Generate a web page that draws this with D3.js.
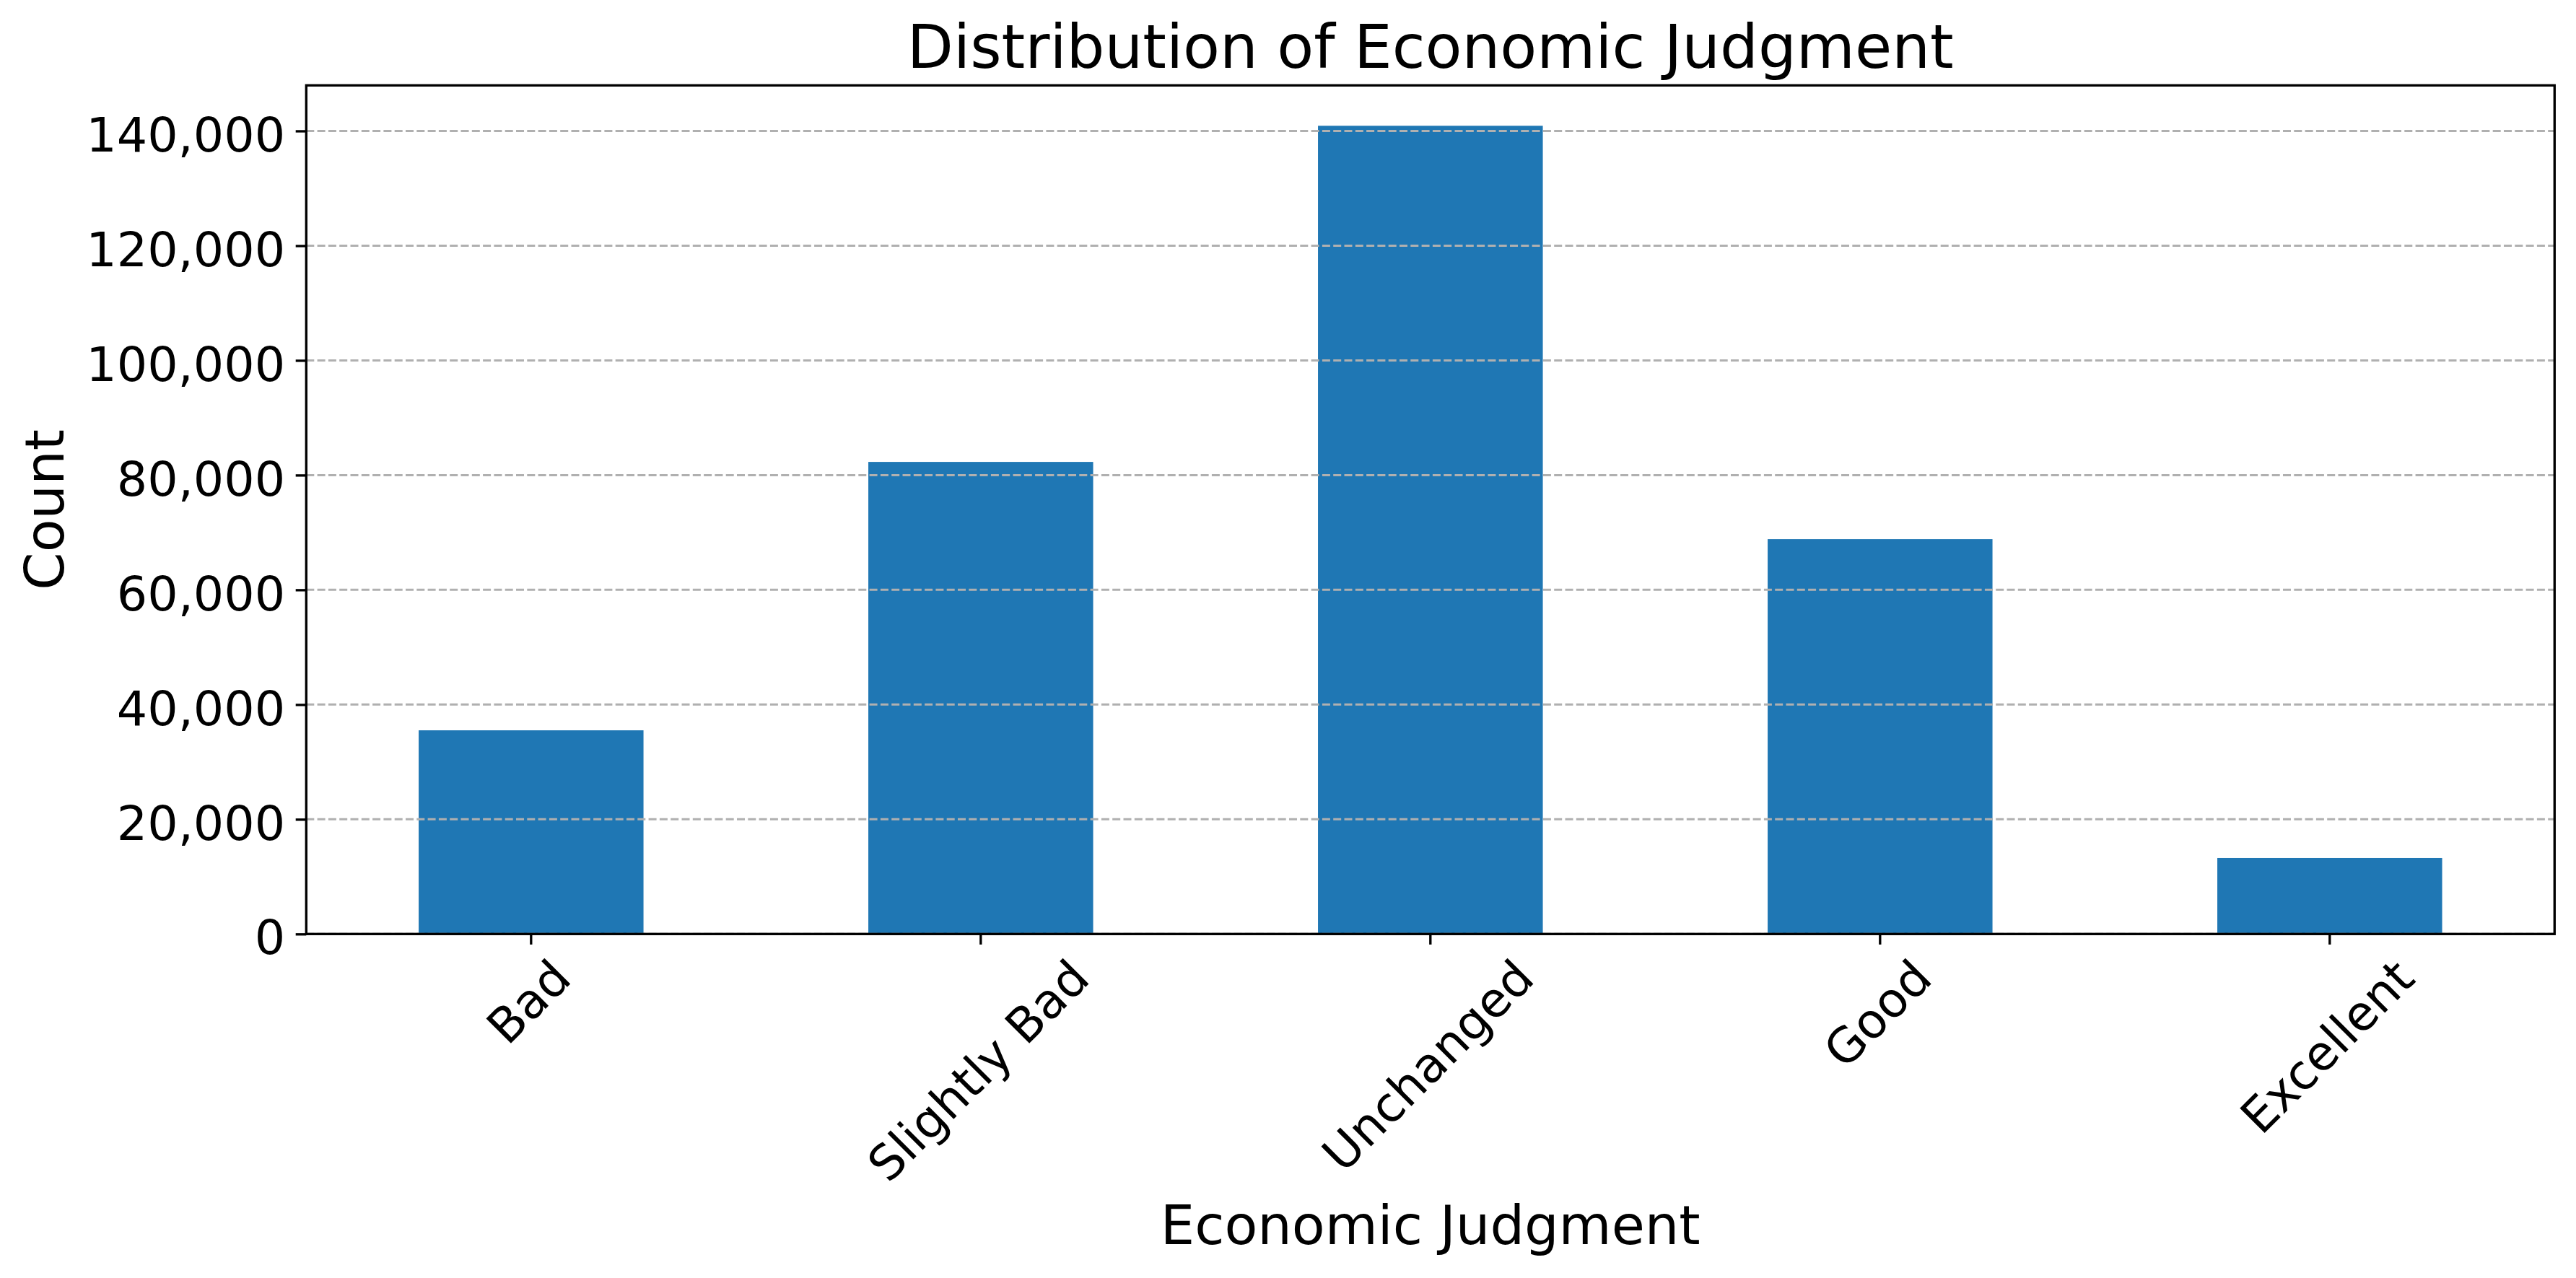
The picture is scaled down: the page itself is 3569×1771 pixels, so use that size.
<!DOCTYPE html>
<html>
<head>
<meta charset="utf-8">
<script src="https://cdn.jsdelivr.net/npm/d3@7"></script>
<style>
  html, body { margin: 0; padding: 0; background: #ffffff; }
  svg { display: block; }
  text { font-family: "DejaVu Sans", sans-serif; fill: #000; }
</style>
</head>
<body>
<svg id="chart" width="3569" height="1771"></svg>
<script>
// ---- data ----
const categories = ["Bad", "Slightly Bad", "Unchanged", "Good", "Excellent"];
const counts = [35510, 82300, 140900, 68840, 13250];
const yTickValues = [0, 20000, 40000, 60000, 80000, 100000, 120000, 140000];
const titleText = "Distribution of Economic Judgment";
const xLabelText = "Economic Judgment";
const yLabelText = "Count";

// ---- layout ----
const W = 3569, H = 1771;
const plot = { left: 424.3, right: 3539.3, top: 118.3, bottom: 1294.3 };
const tickLen = 14.6, tickPad = 14.6, lw = 3.33;
const tickFont = 66.7, labelFont = 75, titleFont = 83.3;

const svg = d3.select("#chart");
svg.append("rect").attr("width", W).attr("height", H).attr("fill", "#fff");

const x = d3.scaleBand()
  .domain(categories)
  .range([plot.left, plot.right])
  .paddingInner(0.5)
  .paddingOuter(0.25);

const y = d3.scaleLinear()
  .domain([0, d3.max(counts) * 1.05])
  .range([plot.bottom, plot.top]);

const data = categories.map((c, i) => ({ c, v: counts[i] }));

// bars
svg.append("g").selectAll("rect").data(data).join("rect")
  .attr("x", d => x(d.c))
  .attr("width", x.bandwidth())
  .attr("y", d => y(d.v))
  .attr("height", d => y(0) - y(d.v))
  .attr("fill", "#1f77b4");

// grid (drawn above bars, as in reference)
svg.append("g").selectAll("line").data(yTickValues).join("line")
  .attr("x1", plot.left).attr("x2", plot.right)
  .attr("y1", d => y(d)).attr("y2", d => y(d))
  .attr("stroke", "#b0b0b0")
  .attr("stroke-width", 3)
  .attr("stroke-dasharray", "11,4.3");

// y axis ticks via d3 axis
const fmt = d3.format(",");
const yAxis = d3.axisLeft(y).tickValues(yTickValues).tickFormat(fmt)
  .tickSize(tickLen).tickPadding(tickPad);
const gy = svg.append("g").attr("transform", `translate(${plot.left},0)`).call(yAxis);
gy.select(".domain").remove();
gy.selectAll(".tick line").attr("stroke", "#000").attr("stroke-width", lw);
gy.selectAll(".tick text")
  .attr("font-family", "DejaVu Sans")
  .attr("font-size", tickFont)
  .attr("fill", "#000")
  .attr("dy", "0.415em");

// x axis ticks
const xAxis = d3.axisBottom(x).tickSize(tickLen).tickFormat("");
const gx = svg.append("g").attr("transform", `translate(0,${plot.bottom})`).call(xAxis);
gx.select(".domain").remove();
gx.selectAll(".tick line").attr("stroke", "#000").attr("stroke-width", lw);
gx.selectAll(".tick text").remove();

// rotated x tick labels (bbox centered on tick, top at tick+pad)
const labelTop = plot.bottom + tickLen + tickPad;
const lg = svg.append("g");
categories.forEach(c => {
  const t = lg.append("text")
    .attr("font-size", tickFont)
    .attr("text-anchor", "middle")
    .text(c);
  const w = t.node().getComputedTextLength();
  const h = tickFont * 0.97;
  const cx = x(c) + x.bandwidth() / 2;
  const cy = labelTop + (w + h) * Math.SQRT1_2 / 2;
  t.attr("x", 0).attr("y", 0).attr("dy", "0.275em")
   .attr("transform", `translate(${cx},${cy}) rotate(-45)`);
});

// spines
svg.append("rect")
  .attr("x", plot.left).attr("y", plot.top)
  .attr("width", plot.right - plot.left).attr("height", plot.bottom - plot.top)
  .attr("fill", "none").attr("stroke", "#000").attr("stroke-width", lw);

// title
svg.append("text")
  .attr("x", (plot.left + plot.right) / 2).attr("y", 93.5)
  .attr("text-anchor", "middle").attr("font-size", titleFont)
  .text(titleText);

// x label
svg.append("text")
  .attr("x", (plot.left + plot.right) / 2).attr("y", 1724)
  .attr("text-anchor", "middle").attr("font-size", labelFont)
  .text(xLabelText);

// y label
svg.append("text")
  .attr("transform", `translate(88,${(plot.top + plot.bottom) / 2}) rotate(-90)`)
  .attr("text-anchor", "middle").attr("font-size", labelFont)
  .text(yLabelText);
</script>
</body>
</html>
